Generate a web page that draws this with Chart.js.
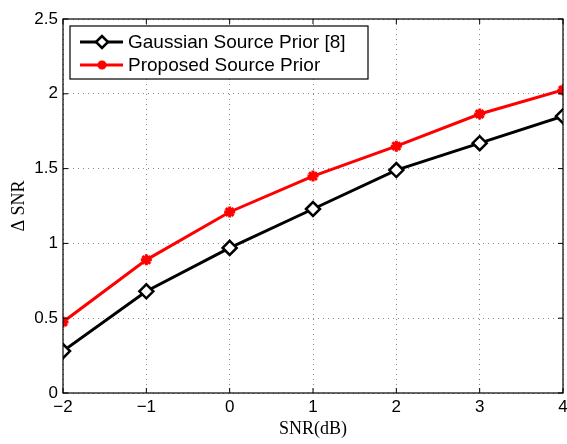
<!DOCTYPE html>
<html>
<head>
<meta charset="utf-8">
<script src="https://cdn.jsdelivr.net/npm/chart.js@4/dist/chart.umd.min.js"></script>
<style>
  html, body { margin: 0; padding: 0; background: #fff; }
  #wrap { width: 567px; height: 444px; }
</style>
</head>
<body>
<div id="wrap"><canvas id="c" width="567" height="444"></canvas></div>
<script>
const snrDb = [-2, -1, 0, 1, 2, 3, 4];
const gaussianPrior = [0.28, 0.68, 0.97, 1.23, 1.49, 1.67, 1.85];
const proposedPrior = [0.475, 0.89, 1.21, 1.45, 1.65, 1.865, 2.025];
const yTicks = [0, 0.5, 1, 1.5, 2, 2.5];

const tickFont = { family: 'Liberation Sans, Arial, sans-serif', size: 17 };
const titleFont = { family: 'Liberation Serif, Times New Roman, serif', size: 18 };

// box round the plot, inward tick marks and the legend inside the axes
const frame = {
  id: 'frame',
  afterDraw(chart) {
    const { ctx, chartArea: a, scales } = chart;
    ctx.save();
    ctx.strokeStyle = '#000';
    ctx.lineWidth = 1.2;
    ctx.strokeRect(a.left, a.top, a.right - a.left, a.bottom - a.top);
    ctx.lineWidth = 1;
    ctx.beginPath();
    snrDb.forEach(v => {
      const x = scales.x.getPixelForValue(v);
      ctx.moveTo(x, a.bottom); ctx.lineTo(x, a.bottom - 5);
      ctx.moveTo(x, a.top); ctx.lineTo(x, a.top + 5);
    });
    yTicks.forEach(v => {
      const y = scales.y.getPixelForValue(v);
      ctx.moveTo(a.left, y); ctx.lineTo(a.left + 5, y);
      ctx.moveTo(a.right, y); ctx.lineTo(a.right - 5, y);
    });
    ctx.stroke();

    // legend
    const lx = a.left + 7, ly = a.top + 7, lw = 298, lh = 53;
    ctx.fillStyle = '#fff';
    ctx.fillRect(lx, ly, lw, lh);
    ctx.strokeStyle = '#000';
    ctx.lineWidth = 1.2;
    ctx.strokeRect(lx, ly, lw, lh);
    ctx.font = '19px "Liberation Sans", Arial, sans-serif';
    ctx.textBaseline = 'middle';
    chart.data.datasets.forEach((ds, i) => {
      const y = ly + 16 + i * 23;
      ctx.strokeStyle = ds.borderColor;
      ctx.lineWidth = ds.borderWidth;
      ctx.beginPath();
      ctx.moveTo(lx + 10, y); ctx.lineTo(lx + 53, y);
      ctx.stroke();
      ctx.fillStyle = ds.pointBackgroundColor;
      ctx.strokeStyle = ds.pointBorderColor;
      ctx.lineWidth = ds.pointBorderWidth;
      Chart.helpers.drawPoint(ctx, {
        pointStyle: ds.pointStyle,
        radius: ds.pointRadius - 1,
        borderWidth: ds.pointBorderWidth
      }, lx + 32, y);
      ctx.fillStyle = '#000';
      ctx.fillText(ds.label, lx + 58, y + 1);
    });
    ctx.restore();
  }
};

new Chart(document.getElementById('c'), {
  type: 'line',
  data: {
    datasets: [
      {
        label: 'Gaussian Source Prior [8]',
        data: snrDb.map((x, i) => ({ x, y: gaussianPrior[i] })),
        borderColor: '#000',
        borderWidth: 3,
        pointStyle: 'rectRot',
        pointRadius: 7,
        pointBorderWidth: 2.5,
        pointBackgroundColor: '#fff',
        pointBorderColor: '#000',
        tension: 0
      },
      {
        label: 'Proposed Source Prior',
        data: snrDb.map((x, i) => ({ x, y: proposedPrior[i] })),
        borderColor: '#ff0000',
        borderWidth: 3,
        pointStyle: 'star',
        pointRadius: 5.5,
        pointBorderWidth: 3,
        pointBackgroundColor: '#ff0000',
        pointBorderColor: '#ff0000',
        tension: 0
      }
    ]
  },
  options: {
    responsive: false,
    animation: false,
    layout: { autoPadding: false, padding: { top: 19, right: 4, left: 0, bottom: 0 } },
    plugins: { legend: { display: false }, tooltip: { enabled: false } },
    scales: {
      x: {
        type: 'linear',
        min: -2, max: 4,
        afterBuildTicks: s => { s.ticks = snrDb.map(v => ({ value: v })); },
        afterFit: s => { s.height = 51; s.paddingRight = 0; s.paddingLeft = 0; },
        ticks: {
          color: '#000', font: tickFont, padding: 4,
          callback: v => String(v).replace('-', '\u2212')
        },
        grid: { color: '#888', lineWidth: 1, drawTicks: false },
        border: { display: false, dash: [1, 4] },
        title: { display: true, text: 'SNR(dB)', color: '#000', font: titleFont, padding: { top: 2 } }
      },
      y: {
        min: 0, max: 2.5,
        afterBuildTicks: s => { s.ticks = yTicks.map(v => ({ value: v })); },
        afterFit: s => { s.width = 63; s.paddingTop = 0; s.paddingBottom = 0; },
        ticks: { color: '#000', font: tickFont, padding: 5, callback: v => String(v) },
        grid: { color: '#888', lineWidth: 1, drawTicks: false },
        border: { display: false, dash: [1, 4] },
        title: { display: true, text: '\u0394 SNR', color: '#000', font: titleFont, padding: { top: 8, bottom: 0 } }
      }
    }
  },
  plugins: [frame]
});
</script>
</body>
</html>
